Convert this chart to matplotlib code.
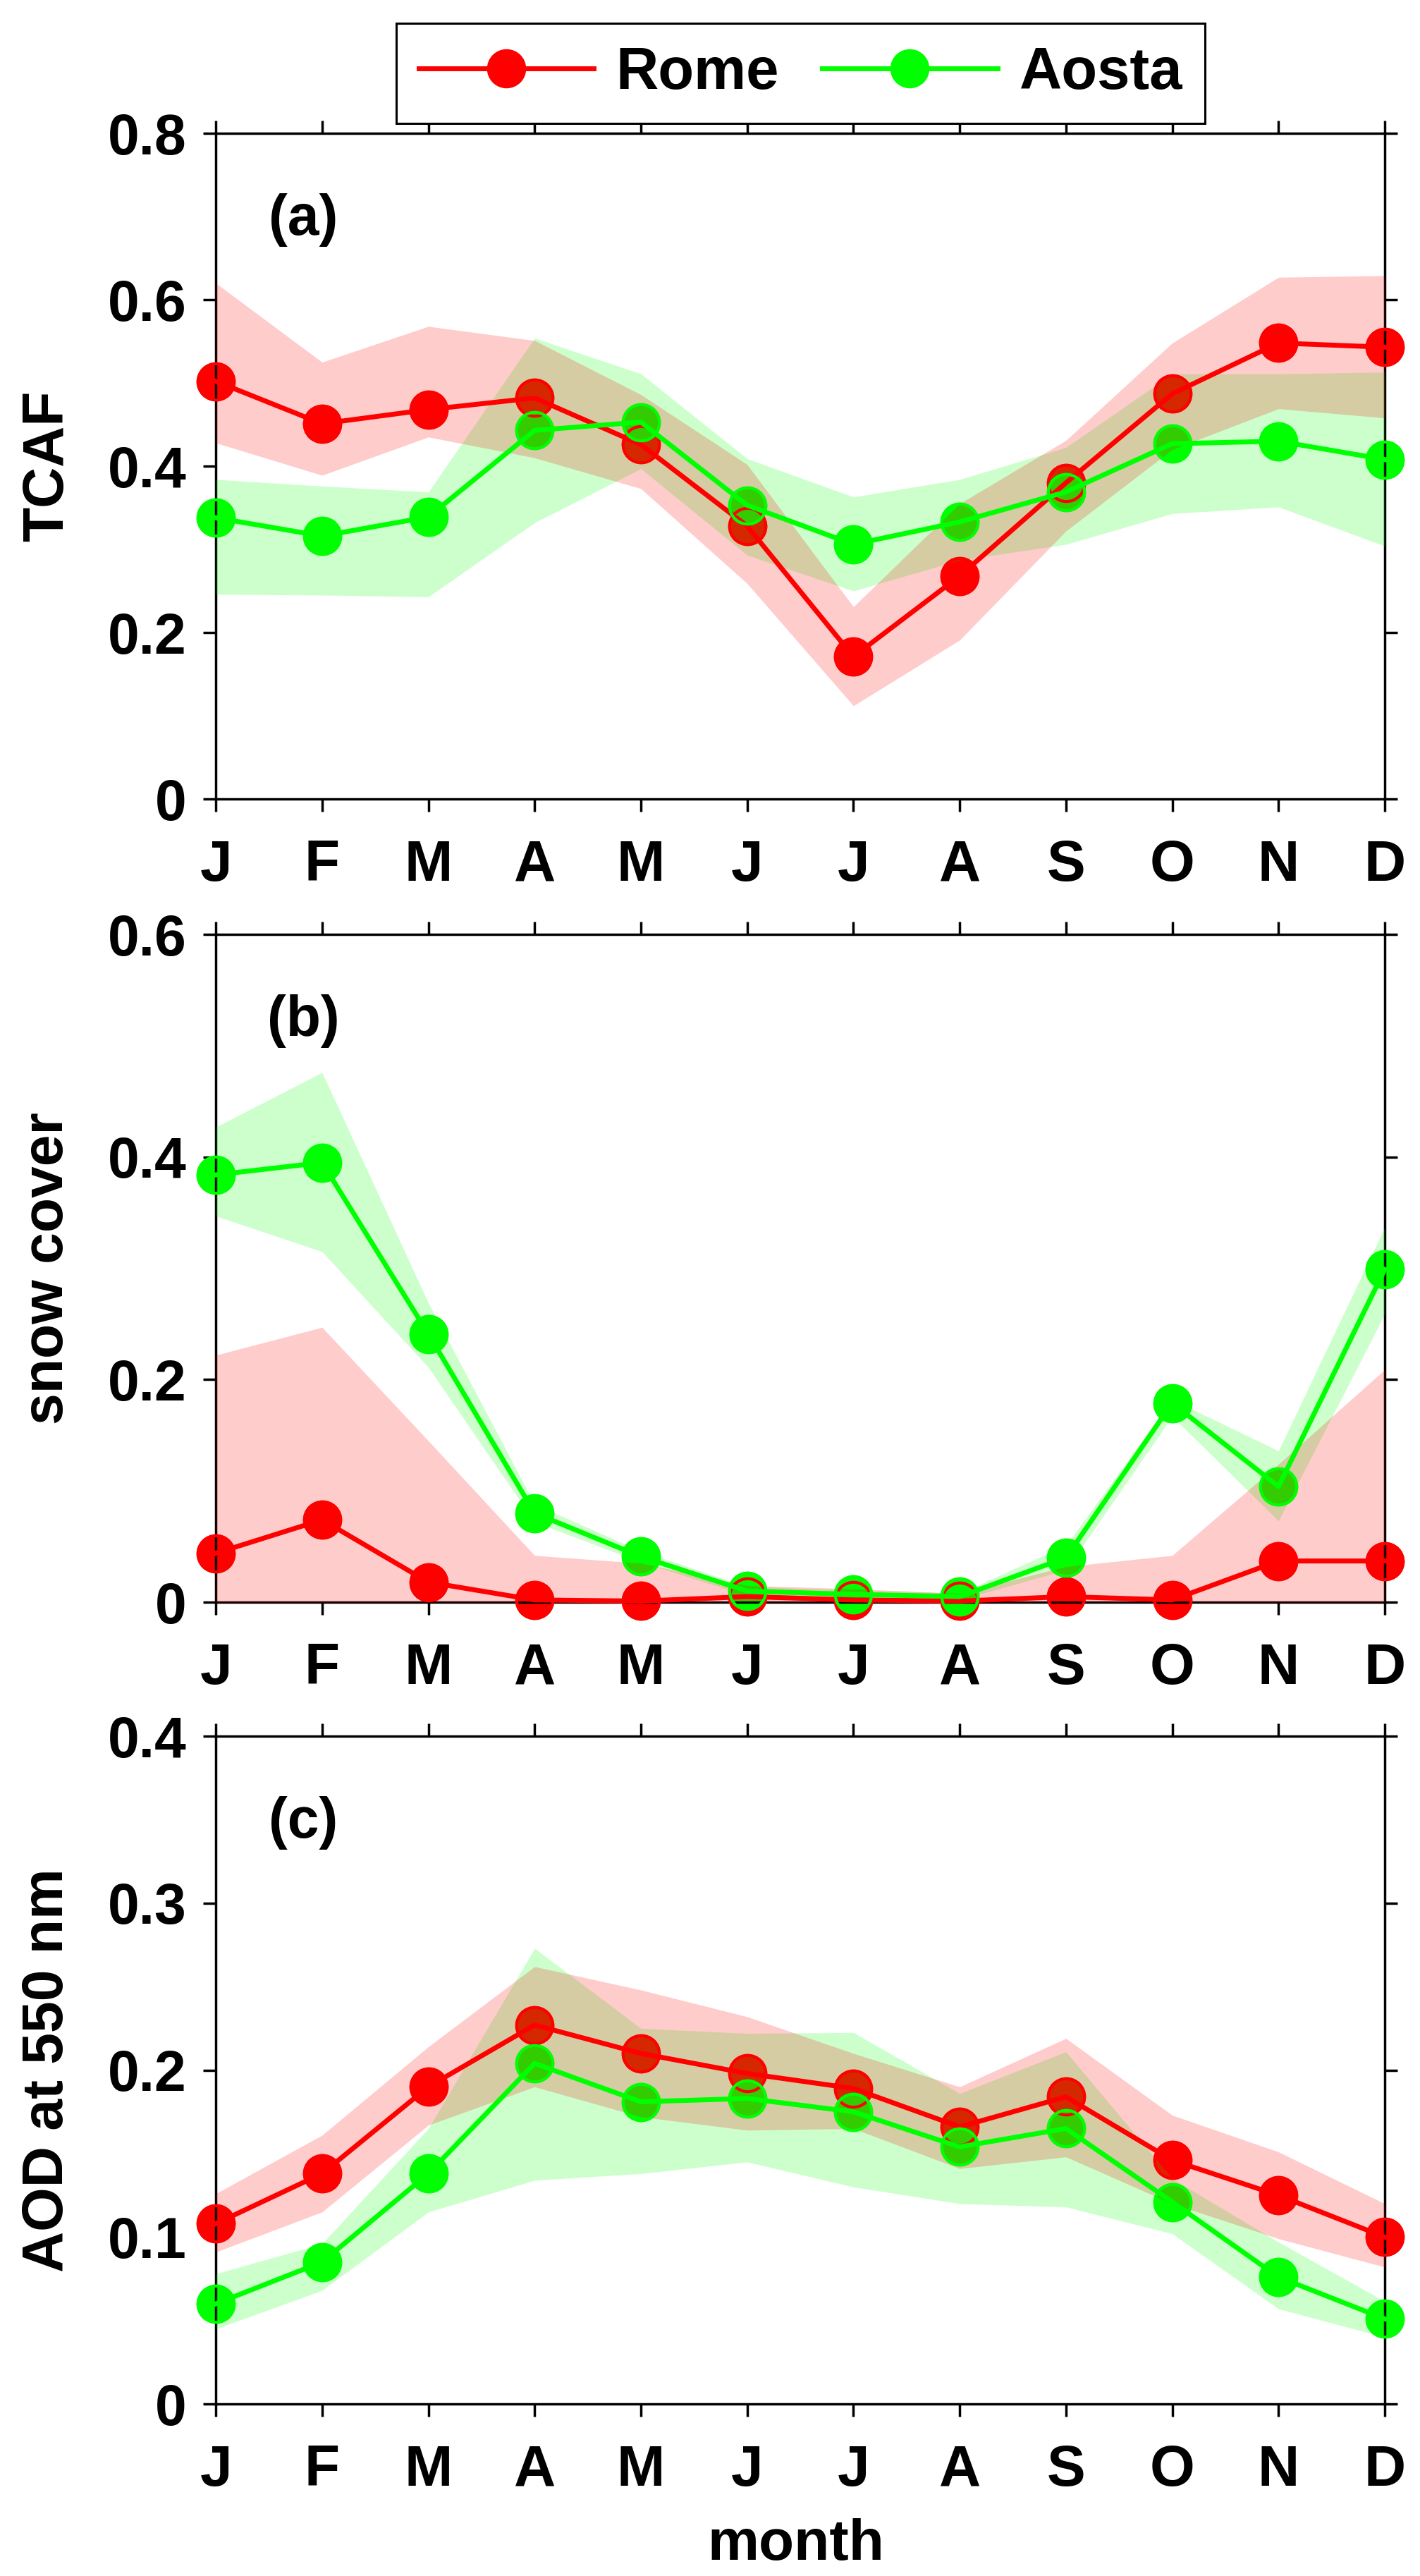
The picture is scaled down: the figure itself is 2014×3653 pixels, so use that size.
import matplotlib
matplotlib.use('Agg')
import matplotlib.pyplot as plt
from matplotlib.lines import Line2D

plt.rcParams['font.family'] = ['Liberation Sans', 'DejaVu Sans']
plt.rcParams['font.weight'] = 'bold'
plt.rcParams['axes.labelweight'] = 'bold'

months = ['J', 'F', 'M', 'A', 'M', 'J', 'J', 'A', 'S', 'O', 'N', 'D']
month_num = list(range(1, 13))

# (a) TCAF
rome_tcaf = [0.502, 0.451, 0.468, 0.482, 0.426, 0.328, 0.171, 0.268, 0.380, 0.487, 0.548, 0.543]
rome_tcaf_lo = [0.428, 0.389, 0.435, 0.410, 0.373, 0.259, 0.112, 0.191, 0.322, 0.420, 0.469, 0.458]
rome_tcaf_hi = [0.620, 0.525, 0.568, 0.551, 0.486, 0.402, 0.231, 0.355, 0.431, 0.548, 0.627, 0.629]
aosta_tcaf = [0.338, 0.316, 0.339, 0.443, 0.453, 0.353, 0.306, 0.333, 0.369, 0.427, 0.430, 0.408]
aosta_tcaf_lo = [0.246, 0.245, 0.243, 0.332, 0.397, 0.293, 0.250, 0.287, 0.306, 0.343, 0.351, 0.304]
aosta_tcaf_hi = [0.384, 0.376, 0.369, 0.554, 0.511, 0.409, 0.363, 0.384, 0.4225, 0.511, 0.511, 0.513]

# (b) snow cover
rome_snow = [0.044, 0.074, 0.018, 0.002, 0.001, 0.005, 0.002, 0.001, 0.005, 0.002, 0.037, 0.037]
rome_snow_lo = [0.0] * 12
rome_snow_hi = [0.222, 0.247, 0.145, 0.042, 0.035, 0.015, 0.012, 0.008, 0.032, 0.042, 0.124, 0.209]
aosta_snow = [0.384, 0.395, 0.241, 0.080, 0.041, 0.010, 0.007, 0.005, 0.040, 0.179, 0.104, 0.299]
aosta_snow_lo = [0.347, 0.315, 0.211, 0.072, 0.036, 0.006, 0.004, 0.002, 0.029, 0.167, 0.073, 0.259]
aosta_snow_hi = [0.427, 0.476, 0.269, 0.088, 0.046, 0.014, 0.011, 0.008, 0.051, 0.182, 0.136, 0.337]

# (c) AOD at 550 nm
rome_aod = [0.108, 0.138, 0.190, 0.227, 0.210, 0.198, 0.189, 0.166, 0.184, 0.146, 0.125, 0.100]
rome_aod_lo = [0.091, 0.115, 0.167, 0.190, 0.172, 0.164, 0.165, 0.141, 0.148, 0.120, 0.099, 0.082]
rome_aod_hi = [0.126, 0.161, 0.214, 0.262, 0.248, 0.232, 0.210, 0.190, 0.219, 0.173, 0.151, 0.120]
aosta_aod = [0.060, 0.085, 0.138, 0.204, 0.181, 0.183, 0.175, 0.154, 0.165, 0.121, 0.076, 0.051]
aosta_aod_lo = [0.045, 0.068, 0.115, 0.134, 0.138, 0.145, 0.130, 0.120, 0.118, 0.102, 0.057, 0.040]
aosta_aod_hi = [0.078, 0.096, 0.165, 0.273, 0.225, 0.222, 0.2225, 0.186, 0.211, 0.135, 0.097, 0.0615]

ROME = '#FF0000'
AOSTA = '#00FF00'

fig = plt.figure(figsize=(20.15, 36.53), dpi=100)

panels = [
    dict(pos=[0.1519, 0.68984, 0.8228, 0.2584], rome=(rome_tcaf, rome_tcaf_lo, rome_tcaf_hi),
         aosta=(aosta_tcaf, aosta_tcaf_lo, aosta_tcaf_hi), ylim=(0, 0.8),
         yticks=[0, 0.2, 0.4, 0.6, 0.8], ylabels=['0', '0.2', '0.4', '0.6', '0.8'],
         ylabel='TCAF', tag='(a)'),
    dict(pos=[0.1519, 0.37804, 0.8228, 0.2592], rome=(rome_snow, rome_snow_lo, rome_snow_hi),
         aosta=(aosta_snow, aosta_snow_lo, aosta_snow_hi), ylim=(0, 0.6),
         yticks=[0, 0.2, 0.4, 0.6], ylabels=['0', '0.2', '0.4', '0.6'],
         ylabel='snow cover', tag='(b)'),
    dict(pos=[0.1519, 0.06679, 0.8228, 0.2592], rome=(rome_aod, rome_aod_lo, rome_aod_hi),
         aosta=(aosta_aod, aosta_aod_lo, aosta_aod_hi), ylim=(0, 0.4),
         yticks=[0, 0.1, 0.2, 0.3, 0.4], ylabels=['0', '0.1', '0.2', '0.3', '0.4'],
         ylabel='AOD at 550 nm', tag='(c)'),
]

axes = []
for p in panels:
    ax = fig.add_axes(p['pos'])
    r, r_lo, r_hi = p['rome']
    a, a_lo, a_hi = p['aosta']
    # filled markers underneath the shaded bands
    for y, c in ((r, ROME), (a, AOSTA)):
        ax.plot(month_num, y, ls='none', marker='o', ms=40, mfc=c, mec=c, mew=0,
                zorder=2, clip_on=False)
    # shaded bands
    ax.fill_between(month_num, a_lo, a_hi, color=AOSTA, alpha=0.2, lw=0, zorder=3)
    ax.fill_between(month_num, r_lo, r_hi, color=ROME, alpha=0.2, lw=0, zorder=3)
    # lines and marker rings on top
    for y, c in ((r, ROME), (a, AOSTA)):
        ax.plot(month_num, y, ls='-', color=c, lw=5, marker='o', ms=37, mfc='none',
                mec=c, mew=3, zorder=4, clip_on=False)
    ax.set_xlim(1, 12)
    ax.set_ylim(*p['ylim'])
    ax.set_xticks(month_num)
    ax.set_xticklabels(months)
    ax.set_yticks(p['yticks'])
    ax.set_yticklabels(p['ylabels'])
    for s in ax.spines.values():
        s.set_linewidth(2.5)
    ax.tick_params(direction='out', length=13, width=2.5, top=True, right=True)
    ax.tick_params(axis='x', labelsize=59, pad=28)
    ax.tick_params(axis='y', labelsize=58, pad=17)
    ax.set_ylabel(p['ylabel'], fontsize=58, fontweight='bold', va='baseline')
    ax.yaxis.set_label_coords(-0.1309, 0.5)
    ax.text(0.075, 0.87, p['tag'], transform=ax.transAxes, ha='center', va='center',
            fontsize=58, fontweight='bold')
    axes.append(ax)

axes[-1].set_xlabel('month', fontsize=59, fontweight='bold', va='baseline')
axes[-1].xaxis.set_label_coords(0.496, -0.2334)

handles = [Line2D([], [], color=ROME, lw=5, marker='o', ms=40, mew=0),
           Line2D([], [], color=AOSTA, lw=5, marker='o', ms=40, mew=0)]
leg = fig.legend(handles, ['Rome', 'Aosta'], loc='center', bbox_to_anchor=(0.5635, 0.9715),
                 ncol=2, handlelength=2.98, handletextpad=0.37,
                 columnspacing=0.74, borderpad=0.38, fancybox=False, framealpha=1,
                 edgecolor='black', numpoints=1,
                 prop={'size': 60, 'weight': 'bold'})
leg.get_frame().set_linewidth(2.2)

fig.savefig('out.png', dpi=100)
